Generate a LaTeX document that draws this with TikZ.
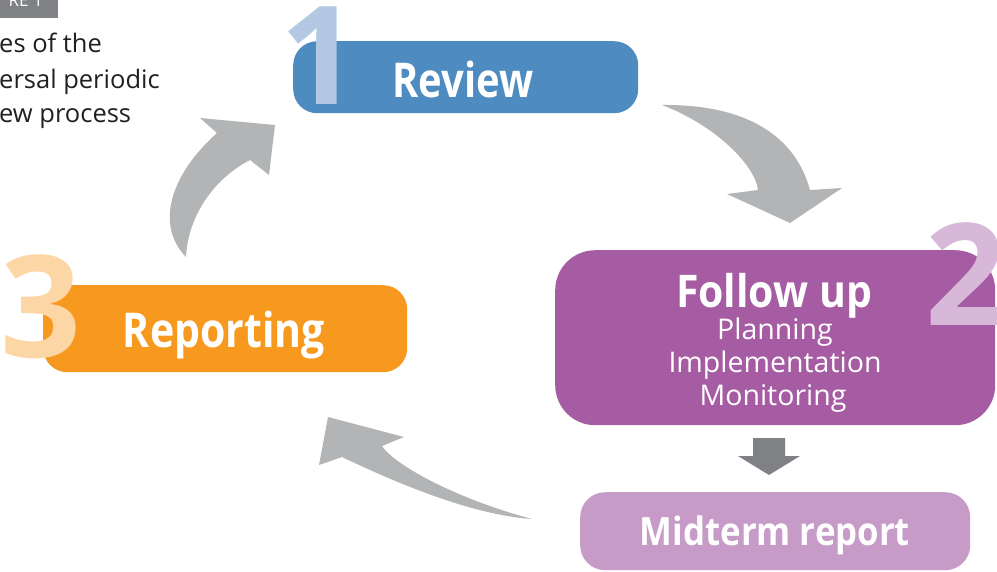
\documentclass[tikz,border=0pt]{standalone}
\usepackage{fontspec}
\setmainfont{Open Sans}
\usepackage{graphicx}
\definecolor{cRev}{HTML}{4E8BC0}
\definecolor{cOne}{HTML}{B3C9E3}
\definecolor{cFol}{HTML}{A65CA2}
\definecolor{cTwo}{HTML}{D8B8D8}
\definecolor{cMid}{HTML}{C79BC8}
\definecolor{cRep}{HTML}{F7991F}
\definecolor{cThree}{HTML}{FDD6A6}
\definecolor{cArr}{HTML}{B3B4B6}
\definecolor{cDark}{HTML}{808184}
\definecolor{cTitle}{HTML}{231F20}
\tikzset{
  stagebox/.style={draw=none, inner sep=0pt, anchor=north west},
  bignum/.style={inner sep=0pt, anchor=base, font=\fontsize{142}{142}\selectfont\bfseries},
  headtxt/.style={inner sep=0pt, anchor=base, text=white},
  subtxt/.style={inner sep=0pt, anchor=base, text=white, font=\fontsize{28.5}{33}\selectfont},
  titletxt/.style={inner sep=0pt, anchor=base west, text=cTitle, font=\fontsize{25.5}{35}\selectfont},
  curvedarrow/.style={fill=cArr, draw=none},
  downarrow/.style={fill=cDark, draw=none}
}
\begin{document}
\begin{tikzpicture}[x=1pt,y=-1pt]
\useasboundingbox (0,0) rectangle (997,571);
\clip (0,0) rectangle (997,571);

% figure label
\node[stagebox, fill=cDark, minimum width=68pt, minimum height=28pt] (lab) at (-10,-10) {};
\node[inner sep=0pt, anchor=base east, text=white, font=\fontsize{17}{17}\selectfont] (labtxt) at (43,6) {RE 1};

% title
\node[titletxt] (t1) at (-1,52) {es of the};
\node[titletxt] (t2) at (-1,88) {ersal periodic};
\node[titletxt] (t3) at (-1,122) {ew process};

% curved arrows
\fill[curvedarrow] (662,105) .. controls (745,104) and (795,135) .. (810,190)
  -- (842,188) -- (790,223) -- (727,194) -- (758,190)
  .. controls (755,165) and (715,125) .. (662,105) -- cycle;
\fill[curvedarrow] (186,257) .. controls (155,225) and (170,175) .. (217,133)
  -- (200,118) -- (275,125) -- (269,175) -- (250,160)
  .. controls (215,178) and (188,215) .. (186,257) -- cycle;
\fill[curvedarrow] (532,519) .. controls (470,515) and (390,480) .. (342,457)
  -- (319,465) -- (328,417) -- (404,437) -- (382,446)
  .. controls (395,466) and (460,500) .. (532,519) -- cycle;

% boxes
\node[stagebox, fill=cRev, minimum width=345pt, minimum height=72pt, rounded corners=24pt] (rev) at (293,41) {};
\node[stagebox, fill=cFol, minimum width=440pt, minimum height=175pt, rounded corners=40pt] (fol) at (555,250) {};
\node[stagebox, fill=cMid, minimum width=390pt, minimum height=78pt, rounded corners=25pt] (mid) at (580,492) {};
\node[stagebox, fill=cRep, minimum width=364pt, minimum height=87pt, rounded corners=24pt] (rep) at (43,285) {};

% down arrow
\fill[downarrow] (753,438) -- (785,438) -- (785,456) -- (800,456) -- (769,475) -- (738,456) -- (753,456) -- cycle;

% big numbers
\node[bignum, text=cOne, font=\fontsize{137}{137}\selectfont\bfseries] (n1) at (320,104) {1};
\node[bignum, text=cTwo] (n2) at (966,325) {2};
\node[bignum, text=cThree] (n3) at (41,357) {3};

% texts
\node[headtxt] (trev) at (463,97) {\resizebox{141pt}{\height}{\fontsize{48}{48}\selectfont\bfseries Review}};
\node[headtxt] (trep) at (224,347) {\resizebox{202pt}{\height}{\fontsize{48}{48}\selectfont\bfseries Reporting}};
\node[headtxt] (tfol) at (774,307) {\resizebox{196pt}{\height}{\fontsize{45}{45}\selectfont\bfseries Follow up}};
\node[subtxt] (s1) at (775,339) {Planning};
\node[subtxt] (s2) at (775,372) {Implementation};
\node[subtxt] (s3) at (773,405) {Monitoring};
\node[headtxt] (tmid) at (775,545) {\resizebox{270pt}{\height}{\fontsize{39}{39}\selectfont\bfseries Midterm report}};
\end{tikzpicture}
\end{document}
